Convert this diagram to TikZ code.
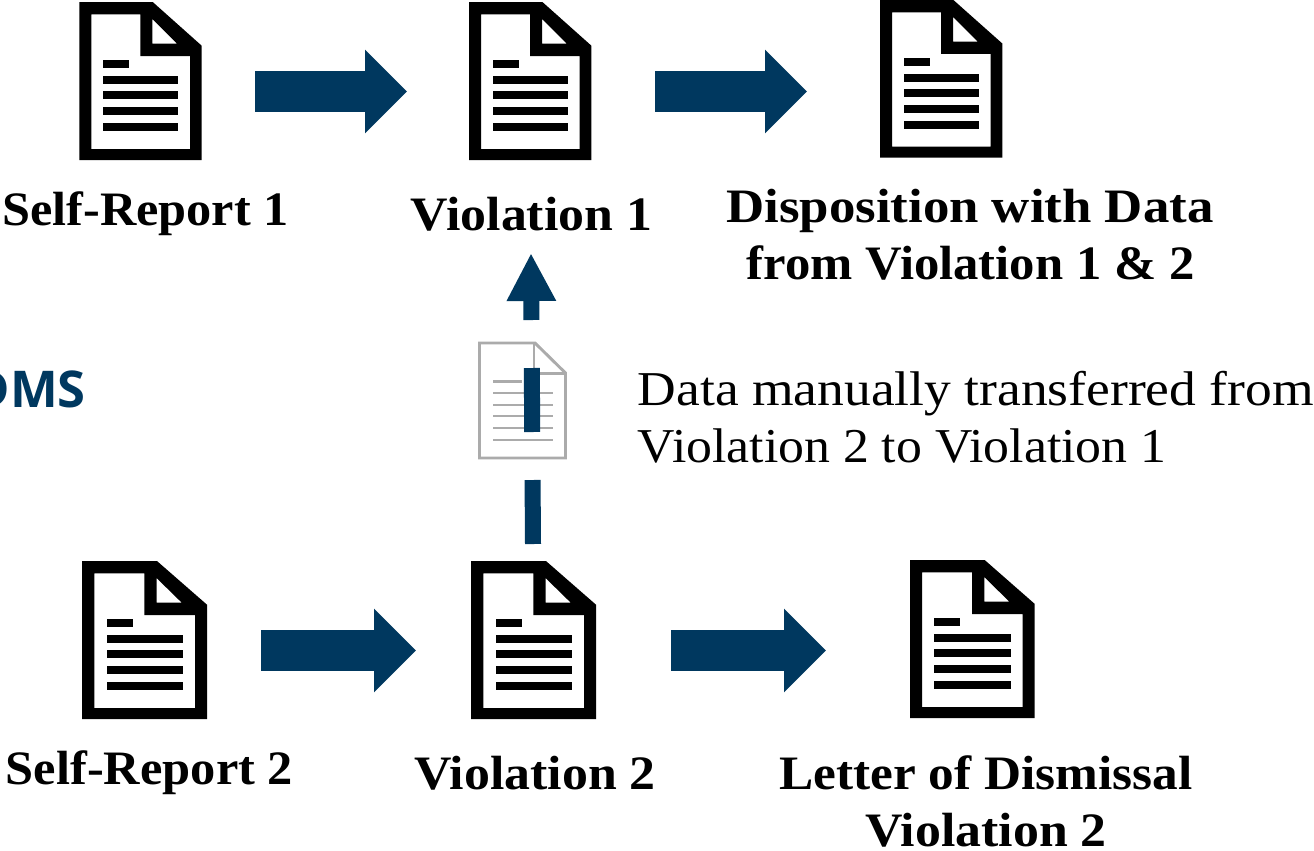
\documentclass[tikz,border=0pt]{standalone}
\usepackage{fontspec}
\setmainfont{Liberation Serif}[FakeStretch=1.08]
\newfontfamily\oms{Open Sans}
\usetikzlibrary{arrows.meta}
\definecolor{navy}{HTML}{00385F}
\definecolor{ghost}{HTML}{ABABAB}
\newcommand{\sx}[2]{\scalebox{#1}[1]{#2}}
\newcommand{\docicon}[5]{% name, x, y, w, h
  \begin{scope}[shift={(#2,#3)},xscale=#4/122.4,yscale=#5/158]
    \coordinate (#1) at (0,0);
    \fill[black,even odd rule] (0,0)--(73.4,0)--(122.4,43.7)--(122.4,158)--(0,158)--cycle
      (12,12.3)--(12,147)--(110.7,147)--(110.7,54)--(61,54)--(61,12.3)--cycle
      (73,17)--(73,41.7)--(97.7,41.7)--cycle;
    \fill[black] (24,58) rectangle (49.6,66);
    \foreach \yy in {74,89.3,105,121}{\fill[black] (24,\yy) rectangle (99,\yy+8);}
  \end{scope}}
\tikzset{
  x=0.75pt,y=-0.75pt,
  blockarrow/.style={navy,line width=30.75pt,-{Triangle[length=31.5pt,width=61pt]}},
  dasharrow/.style={navy,line width=12pt,dash pattern=on 48pt off 36pt,-{Triangle[length=36pt,width=34.5pt]}},
  lbl/.style={anchor=base,inner sep=0pt,font=\fontsize{36}{43}\selectfont\bfseries},
  plain/.style={anchor=base west,inner sep=0pt,font=\fontsize{36.5}{43}\selectfont},
  ghostline/.style={ghost,line width=2.2pt}
}
\begin{document}
\begin{tikzpicture}
\useasboundingbox (0,0) rectangle (1314,850);
\clip (0,0) rectangle (1314,850);
\docicon{d1}{79.3}{2}{122.4}{158}
\docicon{d2}{469}{2}{122.4}{158}
\docicon{d3}{880}{0}{122.4}{157.5}
\docicon{d4}{82}{561}{125}{158}
\docicon{d5}{471}{561}{125}{158}
\docicon{d6}{910}{560}{124.5}{158}
% faded document
\draw[ghostline,line join=miter] (479.5,343)--(535,343)--(565.5,373)--(565.5,458)--(479.5,458)--cycle;
\draw[ghostline] (534,343)--(534,373.5)--(565.5,373.5);
\draw[ghostline] (493,381.5)--(522,381.5);
\foreach \yy in {393,405,416,428,440}{\draw[ghostline] (493,\yy)--(553,\yy);}
% connectors
\coordinate (a1s) at (255,91.5); \coordinate (a1e) at (407,91.5);
\coordinate (a2s) at (655,91.5); \coordinate (a2e) at (807,91.5);
\coordinate (a3s) at (261,650.5); \coordinate (a3e) at (416,650.5);
\coordinate (a4s) at (671,650.5); \coordinate (a4e) at (826,650.5);
\coordinate (v1s) at (533,544); \coordinate (v1e) at (531,253);
\draw[blockarrow] (a1s)--(a1e);
\draw[blockarrow] (a2s)--(a2e);
\draw[blockarrow] (a3s)--(a3e);
\draw[blockarrow] (a4s)--(a4e);
\draw[dasharrow] (v1s)--(v1e);
% labels
\node[lbl] (t1) at (145.5,225) {\sx{.97}{Self-Report 1}};
\node[lbl] (t2) at (531.5,230) {Violation 1};
\node[lbl] (t3) at (970,222) {\sx{1.019}{Disposition with Data}};
\node[lbl] (t3b) at (970.5,279) {\sx{.978}{from Violation 1 \& 2}};
\node[lbl] (t4) at (149.5,784) {\sx{.973}{Self-Report 2}};
\node[lbl] (t5) at (535,789.5) {Violation 2};
\node[lbl] (t6) at (986,789.5) {\sx{.99}{Letter of Dismissal}};
\node[lbl] (t6b) at (986,846.5) {Violation 2};
\node[plain] (n1) at (637.5,405.5) {\sx{1.018}{Data manually transferred from}};
\node[plain] (n2) at (637.5,462.5) {\sx{.985}{Violation 2 to Violation 1}};
\node[anchor=base east,inner sep=0pt,text=navy,font=\fontsize{38}{44}\selectfont\oms\bfseries] (oms) at (86,407) {DMS};
\end{tikzpicture}
\end{document}
